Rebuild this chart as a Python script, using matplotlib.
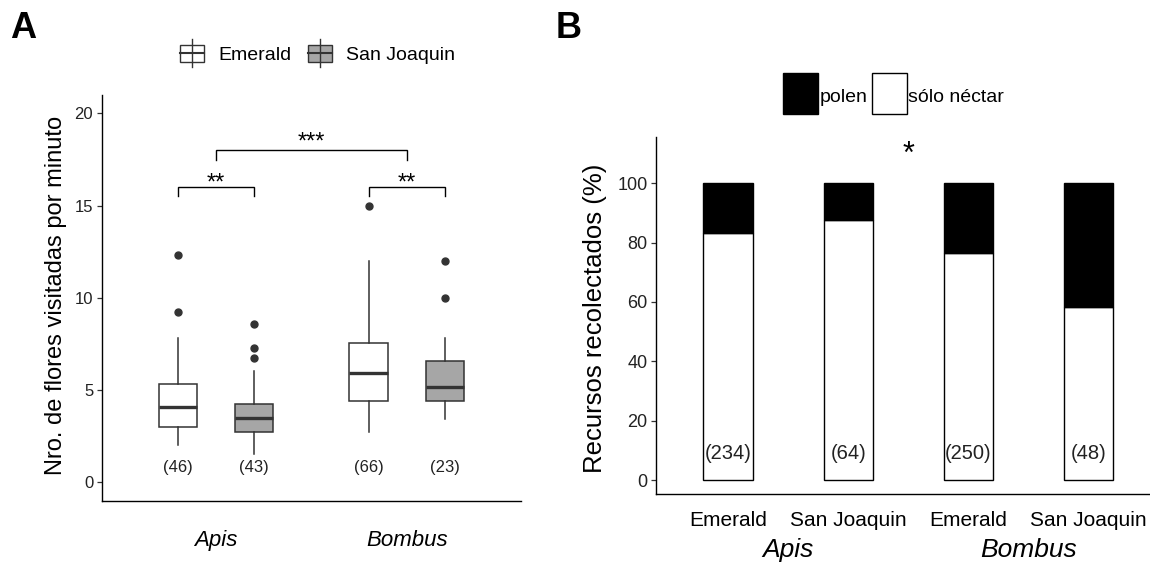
import matplotlib.pyplot as plt
import matplotlib.transforms as mtransforms
from matplotlib.patches import Rectangle
from matplotlib.lines import Line2D

plt.rcParams['font.family'] = ['Liberation Sans', 'DejaVu Sans']

# --- A: flowers visited per minute, box summaries per genus x site ---
genera = ['Apis', 'Bombus']
sites = ['Emerald', 'San Joaquin']
site_fill = ['white', '#a6a6a6']
box_whislo = [2.0, 1.5, 2.7, 3.4]
box_q1 = [3.0, 2.7, 4.4, 4.4]
box_med = [4.05, 3.5, 5.9, 5.15]
box_q3 = [5.3, 4.25, 7.55, 6.55]
box_whishi = [7.8, 6.05, 12.0, 7.8]
box_fliers = [[9.25, 12.3], [6.75, 7.3, 8.55], [15.0], [10.0, 12.0]]
box_n = [46, 43, 66, 23]
within_sig = ['**', '**']      # Emerald vs San Joaquin inside each genus
within_sig_y = 16
between_sig = '***'            # Apis vs Bombus
between_sig_y = 18

# --- B: share of visits collecting pollen vs only nectar ---
bar_sites = ['Emerald', 'San Joaquin', 'Emerald', 'San Joaquin']
nectar_pct = [83.3, 87.5, 76.4, 58.3]
pollen_pct = [16.7, 12.5, 23.6, 41.7]
bar_n = [234, 64, 250, 48]
bar_sig = '*'
bar_sig_y = 109.5

W, H = 1150, 563
fig = plt.figure(figsize=(W / 100, H / 100), dpi=100)


def px_rect(x0, y0, x1, y1):
    # pixel box (origin top-left) -> figure-fraction rect
    return [x0 / W, 1 - y1 / H, (x1 - x0) / W, (y1 - y0) / H]


def fx(x):
    return x / W


def fy(y):
    return 1 - y / H


def style_axes(ax, ysize):
    for side in ('top', 'right'):
        ax.spines[side].set_visible(False)
    for side in ('left', 'bottom'):
        ax.spines[side].set_linewidth(1.0)
        ax.spines[side].set_color('black')
    ax.tick_params(axis='y', length=3.6, width=0.9, color='#333333',
                   labelsize=ysize, pad=2.5, labelcolor='#222222')


# ---------------- panel A ----------------
axA = fig.add_axes(px_rect(101.7, 95, 521, 500.5))
dodge = 0.2
positions = [g + s for g in (1, 2) for s in (-dodge, dodge)]
stats = [dict(whislo=box_whislo[i], q1=box_q1[i], med=box_med[i],
              q3=box_q3[i], whishi=box_whishi[i], fliers=box_fliers[i])
         for i in range(4)]
edge = '#333333'
bp = axA.bxp(stats, positions=positions, widths=0.2, patch_artist=True,
             showcaps=False, manage_ticks=False,
             boxprops=dict(edgecolor=edge, linewidth=1.1),
             whiskerprops=dict(color=edge, linewidth=1.1),
             medianprops=dict(color=edge, linewidth=2.4),
             flierprops=dict(marker='o', markersize=5, markerfacecolor=edge,
                             markeredgecolor=edge))
for i, patch in enumerate(bp['boxes']):
    patch.set_facecolor(site_fill[i % 2])

for pos, n in zip(positions, box_n):
    axA.text(pos, 0.8, f'({n})', ha='center', va='center', fontsize=12,
             color='#222222')


def bracket(ax, x0, x1, y, label, drop, dy, size):
    ax.plot([x0, x0, x1, x1], [y - drop, y, y, y - drop], color='black',
            linewidth=1.0, solid_joinstyle='miter')
    ax.text((x0 + x1) / 2, y + dy, label, ha='center', va='baseline',
            fontsize=size)


for g, lab in enumerate(within_sig):
    bracket(axA, positions[2 * g], positions[2 * g + 1], within_sig_y, lab,
            0.5, -0.12, 17)
bracket(axA, 1, 2, between_sig_y, between_sig, 0.5, 0.12, 17)

axA.set_xlim(0.4, 2.6)
axA.set_ylim(-1, 21)
axA.set_yticks([0, 5, 10, 15, 20])
axA.set_xticks([1, 2])
axA.set_xticklabels(genera, fontstyle='italic', fontsize=16)
axA.tick_params(axis='x', length=0, pad=21)
style_axes(axA, 12)

fig.text(fx(56), fy(295), 'Nro. de flores visitadas por minuto',
         rotation=90, ha='center', va='center', fontsize=17)

# legend for A: small boxplot glyphs
for k, (x0, label) in enumerate(zip([180, 308], sites)):
    xm = x0 + 12
    fig.add_artist(Line2D([fx(xm), fx(xm)], [fy(39), fy(67)], color=edge,
                          linewidth=1.0))
    fig.add_artist(Rectangle((fx(x0), fy(61.5)), fx(24), 17 / H,
                             transform=fig.transFigure,
                             facecolor=site_fill[k], edgecolor=edge,
                             linewidth=1.0))
    fig.add_artist(Line2D([fx(x0), fx(x0 + 24)], [fy(53), fy(53)],
                          color=edge, linewidth=1.5))
    fig.text(fx(x0 + 38), fy(55), label, ha='left', va='center', fontsize=14)

fig.text(fx(10), fy(28), 'A', ha='left', va='center', fontsize=26,
         fontweight='bold')

# ---------------- panel B ----------------
axB = fig.add_axes(px_rect(656, 137, 1150, 494))
xb = range(1, len(bar_sites) + 1)
axB.bar(xb, nectar_pct, width=0.41, color='white', edgecolor='black',
        linewidth=1.0)
axB.bar(xb, pollen_pct, width=0.41, bottom=nectar_pct, color='black',
        edgecolor='black', linewidth=1.0)
for x, n in zip(xb, bar_n):
    axB.text(x, 9, f'({n})', ha='center', va='center', fontsize=14.5,
             color='#222222')
axB.text(2.5, bar_sig_y, bar_sig, ha='center', va='center', fontsize=22)

axB.set_xlim(0.4, 4.51)
axB.set_ylim(-4.7, 115.6)
axB.set_yticks([0, 20, 40, 60, 80, 100])
axB.set_xticks(list(xb))
axB.set_xticklabels(bar_sites, fontsize=15)
axB.tick_params(axis='x', length=0, pad=12)
style_axes(axB, 13)

blend = mtransforms.blended_transform_factory(axB.transData, axB.transAxes)
for g, name in enumerate(genera):
    axB.text(1.5 + 2 * g, -0.157, name, transform=blend, ha='center',
             va='center', fontsize=19, fontstyle='italic')

fig.text(fx(595), fy(318), 'Recursos recolectados (%)', rotation=90,
         ha='center', va='center', fontsize=18.5)

# legend for B
for x0, fill, label in [(783, 'black', 'polen'),
                        (871.5, 'white', 'sólo néctar')]:
    fig.add_artist(Rectangle((fx(x0), fy(114.5)), fx(35), 41 / H,
                             transform=fig.transFigure, facecolor=fill,
                             edgecolor='black', linewidth=1.0))
    fig.text(fx(x0 + 37), fy(97), label, ha='left', va='center',
             fontsize=14)

fig.text(fx(556), fy(28), 'B', ha='left', va='center', fontsize=26,
         fontweight='bold')

fig.savefig('out.png', dpi=100)
